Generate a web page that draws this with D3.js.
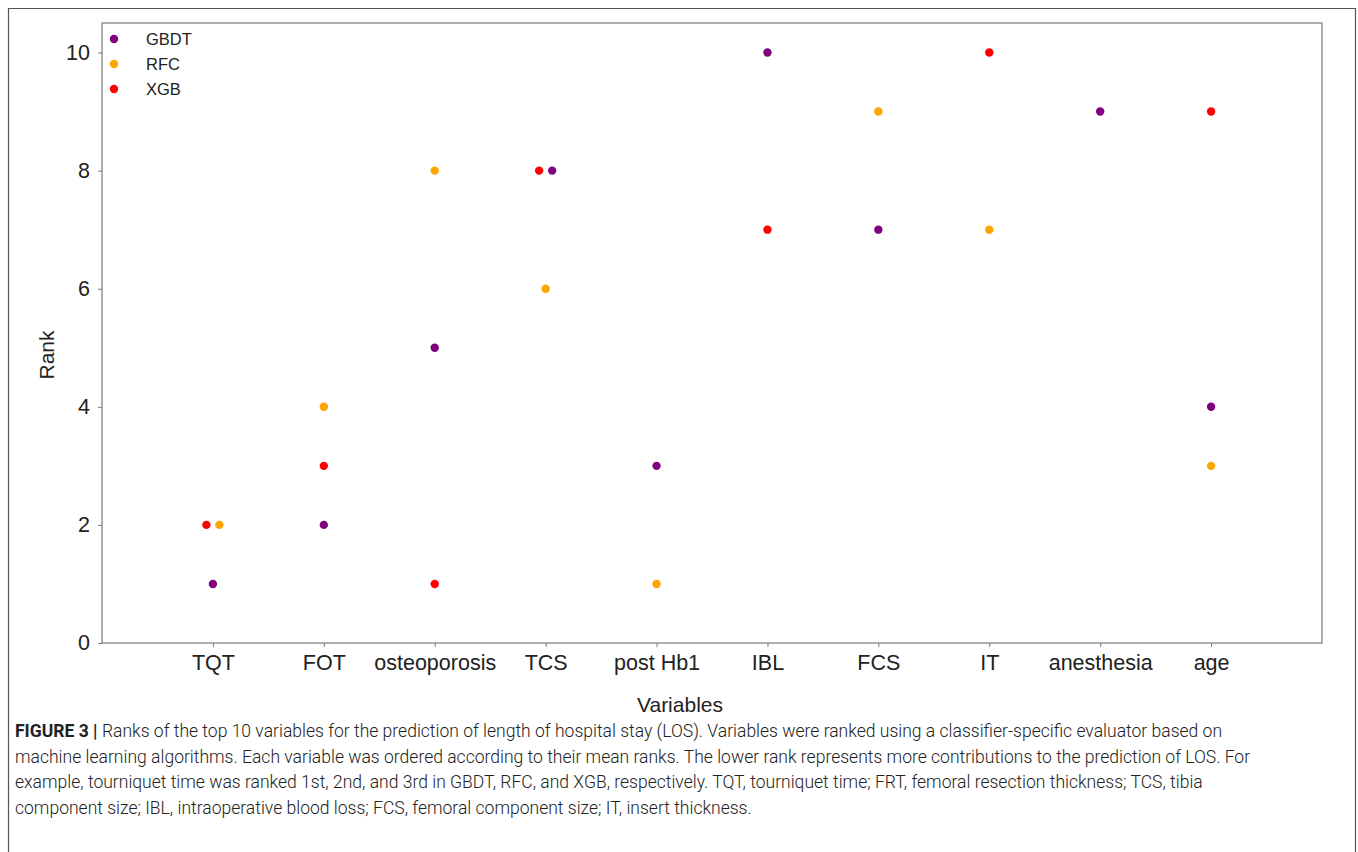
<!DOCTYPE html>
<html>
<head>
<meta charset="utf-8">
<title>Ranks of top 10 variables</title>
<script src="https://d3js.org/d3.v7.min.js"></script>
<style>
  body { margin: 0; background: #fff; }
  svg text { font-family: "Liberation Sans", Arial, sans-serif; fill: #222; }
</style>
</head>
<body>
<svg id="chart" width="1358" height="852"></svg>
<script>
// categories on the x axis, in mean-rank order
var variables = ["TQT", "FOT", "osteoporosis", "TCS", "post Hb1", "IBL", "FCS", "IT", "anesthesia", "age"];

// rank of each variable per classifier (null = not in that classifier's top 10)
var gbdt = [1, 2, 5, 8, 3, 10, 7, null, 9, 4];
var rfc  = [2, 4, 8, 6, 1, null, 9, 7, null, 3];
var xgb  = [2, 3, 1, 8, null, 7, null, 10, null, 9];

var yTicks = [0, 2, 4, 6, 8, 10];

var series = [
  {name: "GBDT", color: "#800080", values: gbdt},
  {name: "RFC",  color: "#ffa500", values: rfc},
  {name: "XGB",  color: "#ff0000", values: xgb}
];
// order used to spread points that share a rank
var dodgeOrder = ["XGB", "GBDT", "RFC"];

var caption = [
  "Ranks of the top 10 variables for the prediction of length of hospital stay (LOS). Variables were ranked using a classifier-specific evaluator based on",
  "machine learning algorithms. Each variable was ordered according to their mean ranks. The lower rank represents more contributions to the prediction of LOS. For",
  "example, tourniquet time was ranked 1st, 2nd, and 3rd in GBDT, RFC, and XGB, respectively. TQT, tourniquet time; FRT, femoral resection thickness; TCS, tibia",
  "component size; IBL, intraoperative blood loss; FCS, femoral component size; IT, insert thickness."
];

var svg = d3.select("#chart");

// outer figure frame
svg.append("path")
  .attr("d", "M8.5,852 V8.5 H1355.5 V852")
  .attr("fill", "none").attr("stroke", "#555").attr("stroke-width", 1.2);

var m = {left: 102, top: 23, right: 1322, bottom: 643};

var x = d3.scaleLinear().domain([0, variables.length + 1]).range([m.left, m.right]);
var y = d3.scaleLinear().domain([0, 10.5]).range([m.bottom, m.top]);

var g = svg.append("g");

// plot box
g.append("rect")
  .attr("x", m.left).attr("y", m.top)
  .attr("width", m.right - m.left).attr("height", m.bottom - m.top)
  .attr("fill", "none").attr("stroke", "#7a7a7a").attr("stroke-width", 1.2);

// axes
var xAxis = d3.axisBottom(x)
  .tickValues(d3.range(1, variables.length + 1))
  .tickFormat(function(d){ return variables[d - 1]; })
  .tickSizeInner(4).tickSizeOuter(0).tickPadding(8);
var yAxis = d3.axisLeft(y)
  .tickValues(yTicks).tickSizeInner(4).tickSizeOuter(0).tickPadding(8);

var gx = g.append("g").attr("transform", "translate(0," + m.bottom + ")").call(xAxis);
var gy = g.append("g").attr("transform", "translate(" + m.left + ",0)").call(yAxis);
[gx, gy].forEach(function(a){
  a.select(".domain").remove();
  a.selectAll(".tick line").attr("stroke", "#7a7a7a");
  a.selectAll(".tick text").attr("font-size", 21.5).attr("fill", "#222")
    .style("font-family", "'Liberation Sans', Arial, sans-serif");
});

// axis titles
g.append("text")
  .attr("transform", "translate(54,355) rotate(-90)")
  .attr("text-anchor", "middle").attr("font-size", 21).text("Rank");
g.append("text")
  .attr("x", 680).attr("y", 712)
  .attr("text-anchor", "middle").attr("font-size", 21).text("Variables");

// points: spread points sharing a rank within a category
var pts = [];
variables.forEach(function(v, i){
  var here = [];
  dodgeOrder.forEach(function(nm){
    var s = series.find(function(d){ return d.name === nm; });
    var val = s.values[i];
    if (val != null) here.push({cat: i + 1, rank: val, color: s.color});
  });
  var groups = d3.group(here, function(d){ return d.rank; });
  groups.forEach(function(arr){
    arr.forEach(function(d, k){
      d.off = (k - (arr.length - 1) / 2) * 13;
      pts.push(d);
    });
  });
});

g.selectAll("circle.pt").data(pts).enter().append("circle")
  .attr("class", "pt")
  .attr("cx", function(d){ return x(d.cat) + d.off; })
  .attr("cy", function(d){ return y(d.rank); })
  .attr("r", 4.2)
  .attr("fill", function(d){ return d.color; });

// legend
var leg = g.append("g").attr("transform", "translate(114,39)");
series.forEach(function(s, i){
  leg.append("circle").attr("cx", 0).attr("cy", i * 25).attr("r", 4.2).attr("fill", s.color);
  leg.append("text").attr("x", 32).attr("y", i * 25 + 6)
    .attr("font-size", 16.5).text(s.name);
});

// caption
var cap = svg.append("text").attr("x", 15).attr("y", 737)
  .attr("font-size", 17.55).attr("font-weight", 300)
  .style("font-family", "Roboto, 'Liberation Sans', sans-serif");
caption.forEach(function(line, i){
  var t = cap.append("tspan").attr("x", 15).attr("y", 737 + i * 25.6);
  if (i === 0) {
    t.append("tspan").attr("font-weight", "bold").text("FIGURE 3 | ");
    t.append("tspan").text(line);
  } else {
    t.text(line);
  }
});
</script>
</body>
</html>
